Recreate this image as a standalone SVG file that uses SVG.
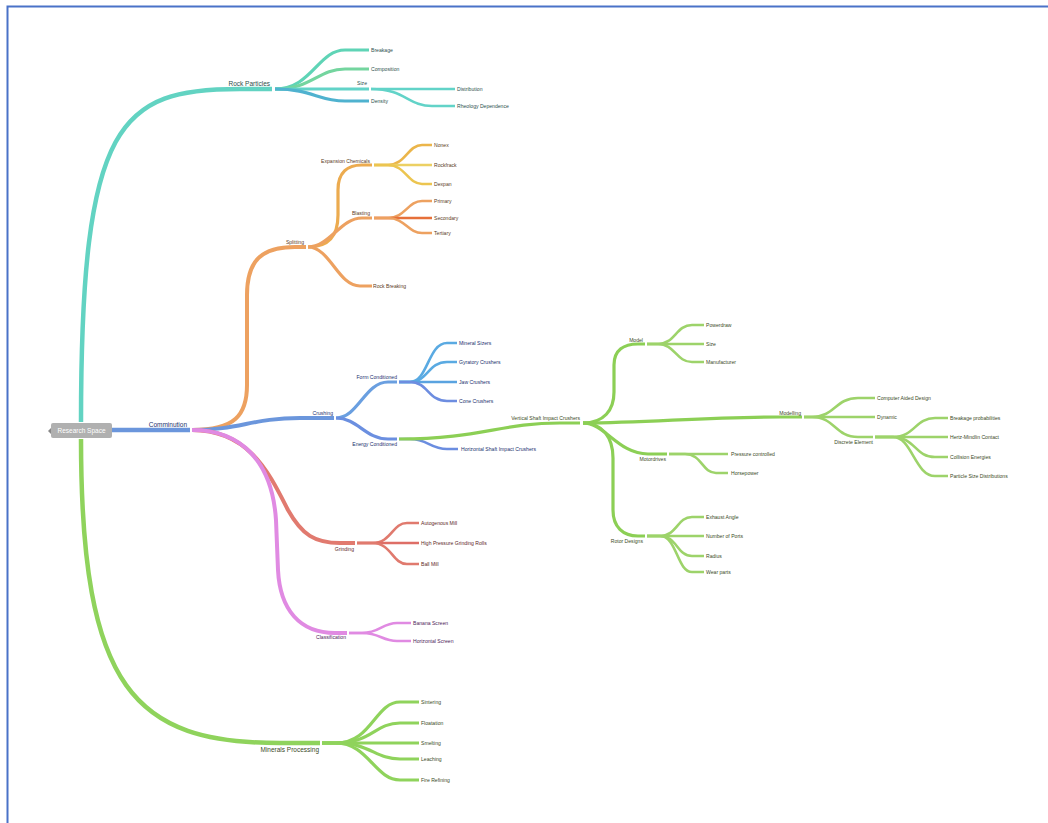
<svg xmlns="http://www.w3.org/2000/svg" width="1048" height="823" viewBox="0 0 1048 823">
<style>
.e{fill:none;stroke-linecap:butt}
.a{stroke-width:4.5}.b{stroke-width:4}.c{stroke-width:3.2}.d{stroke-width:2.6}
text{font-family:"Liberation Sans",Arial,sans-serif;font-size:5.1px}
.big{font-size:6.5px}
.tt{fill:#2c4f4b}.to{fill:#5b3a1c}.tb{fill:#22306e}.tg{fill:#3b4a1e}.tr{fill:#5e1f1f}.tp{fill:#4d1c58}
.r{text-anchor:end}
</style>
<rect width="1048" height="823" fill="#fff"/>
<path d="M7.5,823 L7.5,6.5 L1048,6.5" fill="none" stroke="#4a72c8" stroke-width="2"/>
<g id="connectors">
<!-- teal -->
<path class="e a" stroke="#62d3c2" d="M81,422 C81,120 120,89 240,89 L272,89"/>
<path class="e c" stroke="#5fd4b6" d="M275,89 C312,89 318,50 345,50 L369,50"/>
<path class="e c" stroke="#74d59f" d="M275,89 C312,89 318,69 345,69 L369,69"/>
<path class="e c" stroke="#62d3c8" d="M275,89 L369,89"/>
<path class="e d" stroke="#62d3c8" d="M371,89 L455,89"/>
<path class="e d" stroke="#62d3c8" d="M371,89 C405,89 408,106 432,106 L455,106"/>
<path class="e c" stroke="#4fb2cf" d="M275,89 C312,89 318,101 345,101 L369,101"/>
<!-- comminution -->
<path class="e a" stroke="#6b96dc" d="M112,430 L190,430"/>
<!-- orange -->
<path class="e b" stroke="#eda160" d="M192,430 C235,430 247,415 247,385 L247,295 C247,260 262,247 295,247 L306,247"/>
<path class="e c" stroke="#ecab4f" d="M308,247 C328,247 338,237 338,215 L338,190 C338,172 348,165 362,165 L372,165"/>
<path class="e c" stroke="#eda160" d="M308,247 C330,247 340,218 362,218 L372,218"/>
<path class="e c" stroke="#eda160" d="M308,247 C330,247 338,286 360,286 L372,286"/>
<path class="e d" stroke="#ebb54a" d="M374,165 L388,165 C405,165 408,145 422,145 L432,145"/>
<path class="e d" stroke="#ecd063" d="M374,165 L432,165"/>
<path class="e d" stroke="#ecc550" d="M374,165 L388,165 C405,165 408,184 422,184 L432,184"/>
<path class="e d" stroke="#eda160" d="M374,218 L388,218 C405,218 408,201 422,201 L432,201"/>
<path class="e d" stroke="#e6703a" d="M374,218 L432,218"/>
<path class="e d" stroke="#eda160" d="M374,218 L388,218 C405,218 408,233 422,233 L432,233"/>
<!-- blue -->
<path class="e b" stroke="#6b96dc" d="M192,430 C240,430 252,418 300,418 L334,418"/>
<path class="e c" stroke="#6a9fe0" d="M336,418 C358,418 365,382 388,382 L397,382"/>
<path class="e c" stroke="#6b8fe0" d="M336,418 C358,418 365,439 388,439 L397,439"/>
<path class="e d" stroke="#5aaae2" d="M399,382 L410,382 C428,382 428,343 447,343 L457,343"/>
<path class="e d" stroke="#5aaae2" d="M399,382 L410,382 C428,382 428,362 447,362 L457,362"/>
<path class="e d" stroke="#5aa3e0" d="M399,382 L457,382"/>
<path class="e d" stroke="#6d8de0" d="M399,382 L410,382 C428,382 428,401 447,401 L457,401"/>
<path class="e d" stroke="#6b8de0" d="M399,439 L410,439 C428,439 430,449 447,449 L458,449"/>
<!-- green VSI -->
<path class="e c" stroke="#8ccf55" d="M399,439 C480,439 500,423 560,423 L580,423"/>
<path class="e c" stroke="#8ccf55" d="M583,423 C604,423 614,410 614,392 L614,365 C614,350 624,344 638,344 L645,344"/>
<path class="e d" stroke="#9dd36a" d="M647,344 L658,344 C675,344 676,325 692,325 L704,325"/>
<path class="e d" stroke="#9dd36a" d="M647,344 L704,344"/>
<path class="e d" stroke="#9dd36a" d="M647,344 L658,344 C675,344 676,362 692,362 L704,362"/>
<path class="e c" stroke="#8ccf55" d="M583,423 C650,423 700,417 780,417 L802,417"/>
<path class="e d" stroke="#9dd36a" d="M804,417 L812,417 C835,417 835,398 858,398 L875,398"/>
<path class="e d" stroke="#9dd36a" d="M804,417 L875,417"/>
<path class="e d" stroke="#9dd36a" d="M804,417 L812,417 C835,417 835,437 858,437 L873,437"/>
<path class="e d" stroke="#9dd36a" d="M875,437 L893,437 C915,437 915,418 935,418 L948,418"/>
<path class="e d" stroke="#9dd36a" d="M875,437 L948,437"/>
<path class="e d" stroke="#9dd36a" d="M875,437 L893,437 C915,437 915,457 935,457 L948,457"/>
<path class="e d" stroke="#9dd36a" d="M875,437 L893,437 C912,437 915,476 935,476 L948,476"/>
<path class="e c" stroke="#8ccf55" d="M583,423 C605,423 618,454 648,454 L667,454"/>
<path class="e d" stroke="#9dd36a" d="M669,454 L728,454"/>
<path class="e d" stroke="#9dd36a" d="M669,454 L685,454 C702,454 702,473 716,473 L728,473"/>
<path class="e c" stroke="#8ccf55" d="M583,423 C603,423 613,438 613,458 L613,510 C613,527 623,536 638,536 L645,536"/>
<path class="e d" stroke="#9dd36a" d="M647,536 L660,536 C677,536 677,517 692,517 L704,517"/>
<path class="e d" stroke="#9dd36a" d="M647,536 L704,536"/>
<path class="e d" stroke="#9dd36a" d="M647,536 L660,536 C677,536 677,556 692,556 L704,556"/>
<path class="e d" stroke="#9dd36a" d="M647,536 L660,536 C677,536 677,572 692,572 L704,572"/>
<!-- red -->
<path class="e b" stroke="#e17a6f" d="M192,430 C250,430 270,475 288,510 C302,535 315,543 340,543 L355,543"/>
<path class="e d" stroke="#e07a6e" d="M357,543 L372,543 C392,543 392,523 407,523 L419,523"/>
<path class="e d" stroke="#de6e66" d="M357,543 L419,543"/>
<path class="e d" stroke="#e07a6e" d="M357,543 L372,543 C392,543 392,564 407,564 L419,564"/>
<!-- purple -->
<path class="e b" stroke="#e08ae2" d="M192,430 C240,430 272,460 276,520 L278,570 C280,610 300,633 335,633 L347,633"/>
<path class="e d" stroke="#e08ae2" d="M349,633 L362,633 C380,633 382,623 397,623 L411,623"/>
<path class="e d" stroke="#e08ae2" d="M349,633 L362,633 C380,633 382,641 397,641 L411,641"/>
<!-- minerals -->
<path class="e a" stroke="#8fd35c" d="M81,439 C81,690 135,743 280,743 L320,743"/>
<path class="e c" stroke="#8fd35c" d="M322,743 L336,743 C372,743 375,702 400,702 L419,702"/>
<path class="e c" stroke="#8fd35c" d="M322,743 L336,743 C372,743 375,723 400,723 L419,723"/>
<path class="e c" stroke="#8fd35c" d="M322,743 L419,743"/>
<path class="e c" stroke="#8fd35c" d="M322,743 L336,743 C370,743 375,759 400,759 L419,759"/>
<path class="e c" stroke="#8fd35c" d="M322,743 L336,743 C368,743 375,780 400,780 L419,780"/>
</g>
<g id="root"><polygon points="51,428 48,431 51,434" fill="#888"/><rect x="51" y="423" width="61" height="15" rx="2" fill="#b0b0b0"/><text class="big" x="81.5" y="433" fill="#fff" text-anchor="middle">Research Space</text></g>
<g id="rock-particles"><text class="big tt r" x="270" y="86">Rock Particles</text></g>
<g id="breakage"><text class="tt" x="371" y="51.8">Breakage</text></g>
<g id="composition"><text class="tt" x="371" y="70.8">Composition</text></g>
<g id="size"><text class="tt r" x="367" y="85">Size</text></g>
<g id="distribution"><text class="tt" x="457" y="90.8">Distribution</text></g>
<g id="rheology"><text class="tt" x="457" y="107.8">Rheology Dependence</text></g>
<g id="density"><text class="tt" x="371" y="102.8">Density</text></g>
<g id="comminution"><text class="big tb r" x="187" y="427">Comminution</text></g>
<g id="splitting"><text class="to r" x="304" y="244">Splitting</text></g>
<g id="expansion"><text class="to r" x="370" y="163">Expansion Chemicals</text></g>
<g id="nonex"><text class="to" x="434" y="146.8">Nonex</text></g>
<g id="rockfrack"><text class="to" x="434" y="166.8">Rockfrack</text></g>
<g id="dexpan"><text class="to" x="434" y="185.8">Dexpan</text></g>
<g id="blasting"><text class="to r" x="370" y="215">Blasting</text></g>
<g id="primary"><text class="to" x="434" y="202.8">Primary</text></g>
<g id="secondary"><text class="to" x="434" y="219.8">Secondary</text></g>
<g id="tertiary"><text class="to" x="434" y="234.8">Tertiary</text></g>
<g id="rock-breaking"><text class="to" x="373" y="287.8">Rock Breaking</text></g>
<g id="crushing"><text class="tb r" x="333" y="415">Crushing</text></g>
<g id="form-conditioned"><text class="tb r" x="397" y="379">Form Conditioned</text></g>
<g id="mineral-sizers"><text class="tb" x="459" y="344.8">Mineral Sizers</text></g>
<g id="gyratory"><text class="tb" x="459" y="363.8">Gyratory Crushers</text></g>
<g id="jaw"><text class="tb" x="459" y="383.8">Jaw Crushers</text></g>
<g id="cone"><text class="tb" x="459" y="402.8">Cone Crushers</text></g>
<g id="energy-conditioned"><text class="tb r" x="397" y="446">Energy Conditioned</text></g>
<g id="hsi"><text class="tb" x="461" y="450.8">Horizontal Shaft Impact Crushers</text></g>
<g id="vsi"><text class="tg r" x="580" y="420">Vertical Shaft Impact Crushers</text></g>
<g id="model"><text class="tg r" x="643" y="342">Model</text></g>
<g id="powerdraw"><text class="tg" x="706" y="326.8">Powerdraw</text></g>
<g id="size-model"><text class="tg" x="706" y="345.8">Size</text></g>
<g id="manufacturer"><text class="tg" x="706" y="363.8">Manufacturer</text></g>
<g id="modelling"><text class="tg r" x="801" y="415">Modelling</text></g>
<g id="cad"><text class="tg" x="877" y="399.8">Computer Aided Design</text></g>
<g id="dynamic"><text class="tg" x="877" y="418.8">Dynamic</text></g>
<g id="discrete"><text class="tg r" x="873" y="444">Discrete Element</text></g>
<g id="breakage-prob"><text class="tg" x="950" y="419.8">Breakage probabilities</text></g>
<g id="hertz"><text class="tg" x="950" y="438.8">Hertz-Mindlin Contact</text></g>
<g id="collision"><text class="tg" x="950" y="458.8">Collision Energies</text></g>
<g id="psd"><text class="tg" x="950" y="477.8">Particle Size Distributions</text></g>
<g id="motordrives"><text class="tg r" x="666" y="461">Motordrives</text></g>
<g id="pressure"><text class="tg" x="731" y="455.8">Pressure controlled</text></g>
<g id="horsepower"><text class="tg" x="731" y="474.8">Horsepower</text></g>
<g id="rotor"><text class="tg r" x="643" y="543">Rotor Designs</text></g>
<g id="exhaust"><text class="tg" x="706" y="518.8">Exhaust Angle</text></g>
<g id="ports"><text class="tg" x="706" y="537.8">Number of Ports</text></g>
<g id="radius"><text class="tg" x="706" y="557.8">Radius</text></g>
<g id="wear"><text class="tg" x="706" y="573.8">Wear parts</text></g>
<g id="grinding"><text class="tr r" x="354" y="551">Grinding</text></g>
<g id="autogenous"><text class="tr" x="421" y="524.8">Autogenous Mill</text></g>
<g id="hpgr"><text class="tr" x="421" y="544.8">High Pressure Grinding Rolls</text></g>
<g id="ballmill"><text class="tr" x="421" y="565.8">Ball Mill</text></g>
<g id="classification"><text class="tp r" x="346" y="639">Classification</text></g>
<g id="banana"><text class="tp" x="413" y="624.8">Banana Screen</text></g>
<g id="horizontal-screen"><text class="tp" x="413" y="642.8">Horizontal Screen</text></g>
<g id="minerals"><text class="big tg r" x="319" y="752">Minerals Processing</text></g>
<g id="sintering"><text class="tg" x="421" y="703.8">Sintering</text></g>
<g id="floatation"><text class="tg" x="421" y="724.8">Floatation</text></g>
<g id="smelting"><text class="tg" x="421" y="744.8">Smelting</text></g>
<g id="leaching"><text class="tg" x="421" y="760.8">Leaching</text></g>
<g id="fire"><text class="tg" x="421" y="781.8">Fire Refining</text></g>
</svg>
